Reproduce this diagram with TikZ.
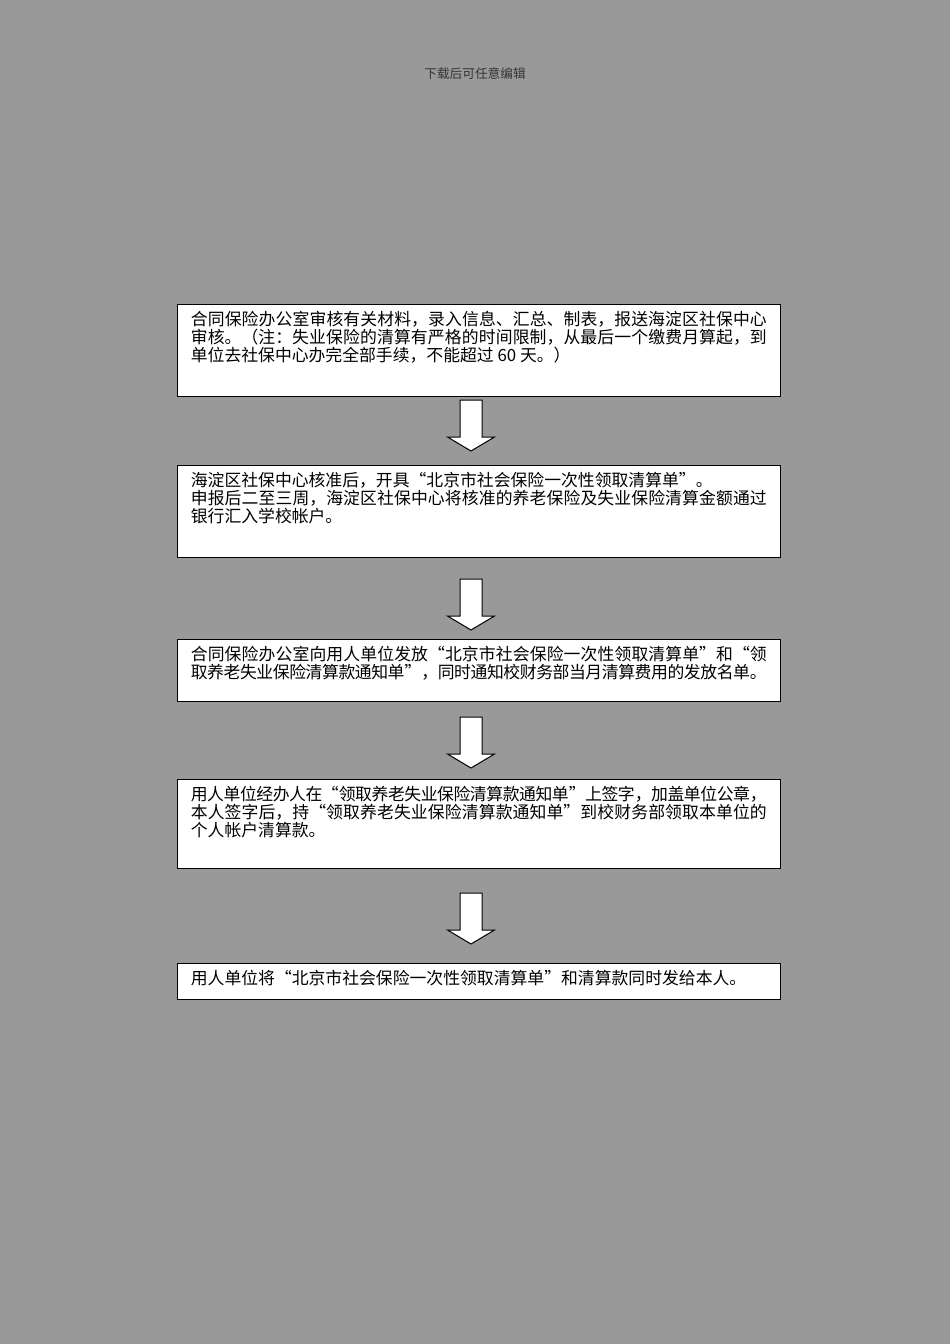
\documentclass[tikz,border=0pt]{standalone}
\usepackage{fontspec}
\setmainfont{Noto Sans CJK SC}
\usetikzlibrary{positioning}
\XeTeXlinebreaklocale "zh"
\XeTeXlinebreakskip=0pt plus 2pt minus 1pt
\definecolor{pagegray}{RGB}{153,153,153}
\newcommand{\flowarrow}[1]{\draw[blockarrow] (#1) ++(-11,0) -- ++(22,0) -- ++(0,37) -- ++(12.5,0) -- ++(-23.5,14) -- ++(-23.5,-14) -- ++(12.5,0) -- cycle;}

\begin{document}
\begin{tikzpicture}[x=0.6pt,y=-0.6pt]

\tikzstyle{stepbox}=[draw, fill=white, line width=0.6pt, anchor=north west, inner xsep=8pt, inner ysep=0pt, text width=345.6pt, align=justify, text height=12.6pt, font=\fontsize{10.1pt}{10.8pt}\selectfont]
\tikzstyle{blockarrow}=[draw, fill=white, line width=0.6pt, line join=miter]

\fill[pagegray] (0,0) rectangle (950,1344);
\useasboundingbox (0,0) rectangle (950,1344);

\node[font=\fontsize{7.6pt}{9pt}\selectfont, text=black!80] at (475,74) (head) {下载后可任意编辑};

\node[stepbox, text depth=42.6pt] at (177,304) (check) {合同保险办公室审核有关材料，录入信息、汇总、制表，报送海淀区社保中心\linebreak 审核。（注：失业保险的清算有严格的时间限制，从最后一个缴费月算起，到\linebreak 单位去社保中心办完全部手续，不能超过 60 天。）};

\node[stepbox, text depth=42.6pt] at (177,465) (approve) {海淀区社保中心核准后，开具“北京市社会保险一次性领取清算单”。\\ 申报后二至三周，海淀区社保中心将核准的养老保险及失业保险清算金额通过\linebreak 银行汇入学校帐户。};

\node[stepbox, text depth=24.6pt] at (177,639) (issue) {合同保险办公室向用人单位发放“北京市社会保险一次性领取清算单”和“领\linebreak 取养老失业保险清算款通知单”，同时通知校财务部当月清算费用的发放名单。};

\node[stepbox, text depth=40.8pt] at (177,779) (sign) {用人单位经办人在“领取养老失业保险清算款通知单”上签字，加盖单位公章，\linebreak 本人签字后，持“领取养老失业保险清算款通知单”到校财务部领取本单位的\linebreak 个人帐户清算款。};

\node[stepbox, text depth=9pt] at (177,963) (hand) {用人单位将“北京市社会保险一次性领取清算单”和清算款同时发给本人。};

\coordinate (a1) at (471,400);
\coordinate (a2) at (471,579);
\coordinate (a3) at (471,717);
\coordinate (a4) at (471,893);
\flowarrow{a1}
\flowarrow{a2}
\flowarrow{a3}
\flowarrow{a4}

\end{tikzpicture}
\end{document}
